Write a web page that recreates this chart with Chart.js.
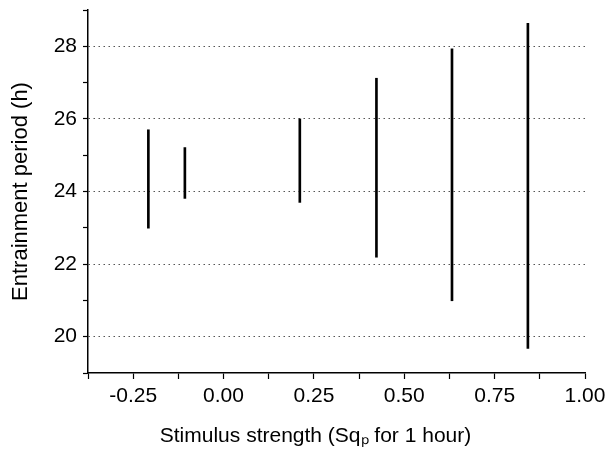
<!DOCTYPE html>
<html>
<head>
<meta charset="utf-8">
<script src="https://cdn.jsdelivr.net/npm/chart.js@4"></script>
<style>
    body { margin: 0; background: #fff; }
</style>
</head>
<body>
<canvas id="periodChart" width="609" height="453"></canvas>
<script>

// stimulus strength of each group
var strengths = [-0.208, -0.107, 0.211, 0.423, 0.632, 0.842];
// lower and upper end of the entrainment range (h)
var lowPeriods = [22.99, 23.81, 23.70, 22.19, 20.99, 19.68];
var highPeriods = [25.70, 25.21, 26.00, 27.12, 27.93, 28.63];

var xLabelTicks = [-0.25, 0, 0.25, 0.5, 0.75, 1.0];
var yLabelTicks = [20, 22, 24, 26, 28];

document.addEventListener("DOMContentLoaded", function () {
    drawPeriodChart();
});

function isLabelTick(list, v) {
    return list.some(t => Math.abs(t - v) < 1e-6);
}

function drawPeriodChart() {
    var points = strengths.map((s, i) => ({ x: s, y: [lowPeriods[i], highPeriods[i]] }));
    var font = "'Liberation Sans', Arial, Helvetica, sans-serif";

    var chart = new Chart(document.getElementById("periodChart"), {
        type: 'bar',
        data: {
            datasets: [{
                label: 'Entrainment range',
                data: points,
                backgroundColor: '#000',
                borderWidth: 0,
                barThickness: 2
            }]
        },
        options: {
            responsive: false,
            animation: false,
            layout: { padding: { top: 10, right: 24, left: 0, bottom: 0 } },
            plugins: {
                legend: { display: false },
                tooltip: { enabled: false }
            },
            scales: {
                x: {
                    type: 'linear',
                    offset: false,
                    min: -0.375,
                    max: 1.0,
                    afterFit: function (scale) {
                        scale.height = 80;
                        scale.paddingLeft = 0;
                        scale.paddingRight = 0;
                    },
                    ticks: {
                        stepSize: 0.125,
                        autoSkip: false,
                        maxRotation: 0,
                        padding: 5,
                        color: '#000',
                        font: { family: font, size: 21 },
                        callback: function (v) {
                            return isLabelTick(xLabelTicks, v) ? v.toFixed(2) : '';
                        }
                    },
                    grid: {
                        offset: false,
                        drawOnChartArea: false,
                        tickLength: 6,
                        tickColor: '#000',
                        tickWidth: 1.2
                    },
                    border: { color: '#000', width: 1.5 },
                    title: {
                        display: true,
                        // trailing en spaces nudge the centred title left like the original
                        text: 'Stimulus strength (Sqₚ for 1 hour)\u2002\u2002\u2002\u2002',
                        color: '#000',
                        font: { family: font, size: 21 },
                        padding: { top: 12 }
                    }
                },
                y: {
                    min: 19,
                    max: 29,
                    afterFit: function (scale) {
                        scale.width = 88;
                        scale.paddingTop = 0;
                        scale.paddingBottom = 0;
                    },
                    ticks: {
                        stepSize: 1,
                        autoSkip: false,
                        padding: 6,
                        color: '#000',
                        font: { family: font, size: 21 },
                        callback: function (v) {
                            return isLabelTick(yLabelTicks, v) ? String(v) : '';
                        }
                    },
                    grid: {
                        color: function (ctx) {
                            return ctx.tick && isLabelTick(yLabelTicks, ctx.tick.value) ? '#555' : 'rgba(0,0,0,0)';
                        },
                        lineWidth: 1,
                        tickLength: 5,
                        tickColor: '#000',
                        tickWidth: 1.2,
                        tickBorderDash: []
                    },
                    border: { color: '#000', width: 1.5, dash: [1.5, 3.5] },
                    title: {
                        display: true,
                        text: 'Entrainment period (h)',
                        color: '#000',
                        font: { family: font, size: 22 },
                        padding: { top: 8, bottom: 0 }
                    }
                }
            }
        }
    });
}
</script>
</body>
</html>
